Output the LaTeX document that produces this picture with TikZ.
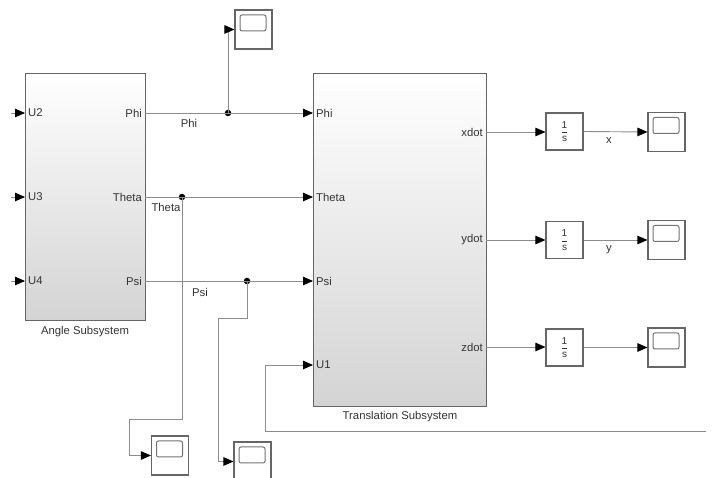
\documentclass[tikz,border=0pt]{standalone}
\usepackage{fontspec}
\setmainfont{Liberation Sans}
\usetikzlibrary{arrows.meta,calc}
\newcommand{\intfrac}{$\displaystyle\frac{\hbox{1}}{\hbox{s}}$}
\begin{document}
\begin{tikzpicture}[x=1pt,y=-1pt,
  font=\fontsize{11.3}{13}\selectfont,
  sig/.style={draw=black!45, line width=0.9pt},
  arr/.style={sig, -{Triangle[length=10pt,width=8.5pt,black]}},
  subsys/.style={draw=black!60, line width=1.3pt, top color=white, bottom color=black!17, shading angle=0, inner sep=0pt, anchor=north west},
  blk/.style={draw=black!60, line width=1.1pt, fill=white, minimum width=37pt, minimum height=37pt, inner sep=0pt, font=\fontsize{10}{12}\selectfont, text=black!80},
  scopeblk/.style={draw=black!60, line width=1.1pt, fill=white, minimum width=37pt, minimum height=39pt, inner sep=0pt,
     path picture={\draw[black!55, line width=1pt, rounded corners=2pt]
       ([xshift=5pt,yshift=-5pt]path picture bounding box.north west) rectangle
       ([xshift=-6pt,yshift=-21pt]path picture bounding box.north east);}},
  dot/.style={circle, fill=black, inner sep=0pt, minimum size=6.5pt},
  lbl/.style={inner sep=0pt, text=black!80}
]
\useasboundingbox (0,0) rectangle (713,478);

% subsystems
\node[subsys, minimum width=120pt, minimum height=247pt] (angle) at (25,73) {};
\node[subsys, minimum width=173pt, minimum height=333pt] (trans) at (313,73) {};
\node[lbl] (angleT) at (85,332) {Angle Subsystem};
\node[lbl] (transT) at (400,417) {Translation Subsystem};

% angle ports
\coordinate (aU2) at (25,113);
\coordinate (aU3) at (25,197);
\coordinate (aU4) at (25,281);
\coordinate (aPhi) at (145,113);
\coordinate (aTheta) at (145,197);
\coordinate (aPsi) at (145,281);
\node[lbl, anchor=west] (lU2) at (28,113) {U2};
\node[lbl, anchor=west] (lU3) at (28,197) {U3};
\node[lbl, anchor=west] (lU4) at (28,281) {U4};
\node[lbl, anchor=east] (lPhiA) at (142,113) {Phi};
\node[lbl, anchor=east] (lThetaA) at (142,197) {Theta};
\node[lbl, anchor=east] (lPsiA) at (142,281) {Psi};

% translation ports
\coordinate (tPhi) at (313,113);
\coordinate (tTheta) at (313,197);
\coordinate (tPsi) at (313,281);
\coordinate (tU1) at (313,365);
\coordinate (tx) at (486,132);
\coordinate (ty) at (486,240);
\coordinate (tz) at (486,347);
\node[lbl, anchor=west] (lPhiT) at (316,113) {Phi};
\node[lbl, anchor=west] (lThetaT) at (316,197) {Theta};
\node[lbl, anchor=west] (lPsiT) at (316,281) {Psi};
\node[lbl, anchor=west] (lU1T) at (316,365) {U1};
\node[lbl, anchor=east] (lx) at (483,132) {xdot};
\node[lbl, anchor=east] (ly) at (483,240) {ydot};
\node[lbl, anchor=east] (lz) at (483,347) {zdot};

% integrators
\node[blk] (int1) at (564.5,131.5) {\intfrac};
\node[blk] (int2) at (564.5,240) {\intfrac};
\node[blk] (int3) at (564.5,347.5) {\intfrac};

% scopes
\node[scopeblk] (scPhi) at (253.5,29.5) {};
\node[scopeblk] (scTheta) at (170,455.5) {};
\node[scopeblk] (scPsi) at (252.5,461.5) {};
\node[scopeblk] (scX) at (666.5,132) {};
\node[scopeblk] (scY) at (666.5,240) {};
\node[scopeblk] (scZ) at (666.5,347.5) {};

% input stubs
\coordinate (sU2) at (11,113);
\coordinate (sU3) at (11,197);
\coordinate (sU4) at (11,281);
\draw[arr] (sU2) -- (aU2);
\draw[arr] (sU3) -- (aU3);
\draw[arr] (sU4) -- (aU4);

% Phi
\node[dot] (jPhi) at (228,113) {};
\draw[arr] (aPhi) -- (tPhi);
\draw[arr] (jPhi.center) |- (scPhi.west);
\node[lbl] (sPhi) at (189,123) {Phi};

% Theta
\node[dot] (jTheta) at (182,197) {};
\draw[arr] (aTheta) -- (tTheta);
\draw[arr] (jTheta.center) -- (182,419) -- (129,419) |- (scTheta.west);
\node[lbl] (sTheta) at (166,207) {Theta};

% Psi
\node[dot] (jPsi) at (247,281) {};
\draw[arr] (aPsi) -- (tPsi);
\draw[arr] (jPsi.center) -- (247,318) -- (218,318) |- (scPsi.west);
\node[lbl] (sPsi) at (200,292) {Psi};

% U1
\coordinate (u1src) at (706,431);
\draw[arr] (u1src) -- (265,431) |- (tU1);

% outputs
\draw[arr] (tx) -- (int1.west |- tx);
\draw[arr] (ty) -- (int2.west |- ty);
\draw[arr] (tz) -- (int3.west |- tz);
\draw[arr] (int1.east) -- (scX.west);
\draw[arr] (int2.east) -- (scY.west);
\draw[arr] (int3.east) -- (scZ.west);
\node[lbl] (sx) at (609,141) {x};
\node[lbl] (sy) at (609,250) {y};
\end{tikzpicture}
\end{document}
